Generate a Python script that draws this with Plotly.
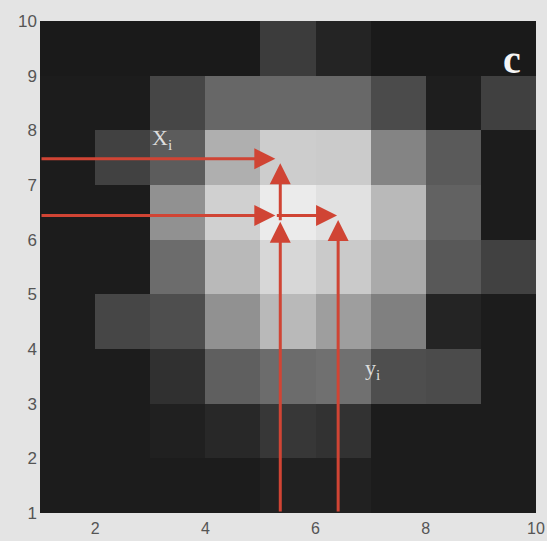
import plotly.graph_objects as go

# Cell edges (pcolor-style grid: 10 edges -> 9 cells each way)
x_edges = [1, 2, 3, 4, 5, 6, 7, 8, 9, 10]
y_edges = [1, 2, 3, 4, 5, 6, 7, 8, 9, 10]

# Gray intensity (0-255) per cell, rows from y=1 (bottom) to y=9 (top)
row_y1 = [28, 28, 28, 28, 33, 33, 28, 28, 28]
row_y2 = [28, 28, 32, 40, 55, 50, 28, 28, 28]
row_y3 = [28, 28, 48, 95, 108, 112, 78, 75, 28]
row_y4 = [28, 70, 78, 145, 185, 158, 128, 36, 28]
row_y5 = [28, 28, 108, 185, 215, 202, 170, 88, 65]
row_y6 = [28, 28, 145, 208, 235, 225, 185, 98, 28]
row_y7 = [28, 65, 92, 175, 205, 203, 132, 90, 28]
row_y8 = [28, 28, 70, 103, 104, 104, 75, 30, 64]
row_y9 = [26, 26, 26, 26, 60, 36, 26, 26, 26]
z_gray = [row_y1, row_y2, row_y3, row_y4, row_y5, row_y6, row_y7, row_y8, row_y9]

x_ticks = [2, 4, 6, 8, 10]
y_ticks = [1, 2, 3, 4, 5, 6, 7, 8, 9, 10]

# Arrows: (tail_x, tail_y, head_x, head_y)
arrows = [
    (1.0, 7.48, 5.27, 7.48),
    (1.0, 6.44, 5.27, 6.44),
    (5.27, 6.44, 6.39, 6.44),
    (5.36, 1.0, 5.36, 6.33),
    (5.36, 6.33, 5.36, 7.40),
    (6.41, 1.0, 6.41, 6.36),
]

# Labels: (x, y, text)
labels = [
    (3.21, 7.84, "X<sub>i</sub>"),
    (7.04, 3.64, "y<sub>i</sub>"),
]
panel_label = (9.57, 9.29, "c")

fig = go.Figure()
fig.add_trace(go.Heatmap(
    x=x_edges, y=y_edges, z=z_gray,
    zmin=0, zmax=255,
    colorscale=[[0, "rgb(0,0,0)"], [1, "rgb(255,255,255)"]],
    showscale=False, hoverinfo="skip",
))

red = "rgb(208,68,52)"
for tx, ty, hx, hy in arrows:
    fig.add_annotation(
        x=hx, y=hy, ax=tx, ay=ty, xref="x", yref="y", axref="x", ayref="y",
        showarrow=True, arrowhead=2, arrowsize=1.4, arrowwidth=3,
        arrowcolor=red, text="", standoff=0, startstandoff=0,
    )

for lx, ly, t in labels:
    fig.add_annotation(
        x=lx, y=ly, xref="x", yref="y", text=t, showarrow=False,
        font=dict(family="Liberation Serif", size=22, color="rgb(222,222,222)"),
    )

fig.add_annotation(
    x=panel_label[0], y=panel_label[1], xref="x", yref="y",
    text="<b>" + panel_label[2] + "</b>", showarrow=False,
    font=dict(family="Liberation Serif", size=40, color="rgb(245,245,245)"),
)

fig.update_xaxes(
    range=[1, 10], tickvals=x_ticks, ticktext=[str(v) for v in x_ticks],
    showgrid=False, zeroline=False, showline=False, ticks="",
    automargin=False, ticklabelstandoff=4,
    tickfont=dict(family="Liberation Sans", size=16, color="rgb(85,85,85)"),
)
fig.update_yaxes(
    range=[1, 10], tickvals=y_ticks, ticktext=[str(v) for v in y_ticks],
    showgrid=False, zeroline=False, showline=False, ticks="",
    automargin=False, ticklabelstandoff=2,
    tickfont=dict(family="Liberation Sans", size=17, color="rgb(85,85,85)"),
)

fig.update_layout(
    width=547, height=541,
    margin=dict(l=40, r=11, t=21, b=28),
    paper_bgcolor="rgb(228,228,228)",
    plot_bgcolor="rgb(28,26,26)",
    showlegend=False,
)

fig.write_html(
    "out.html",
    config={"displayModeBar": False},
    post_script="document.body.style.margin='0';document.body.style.background='rgb(228,228,228)';",
)
